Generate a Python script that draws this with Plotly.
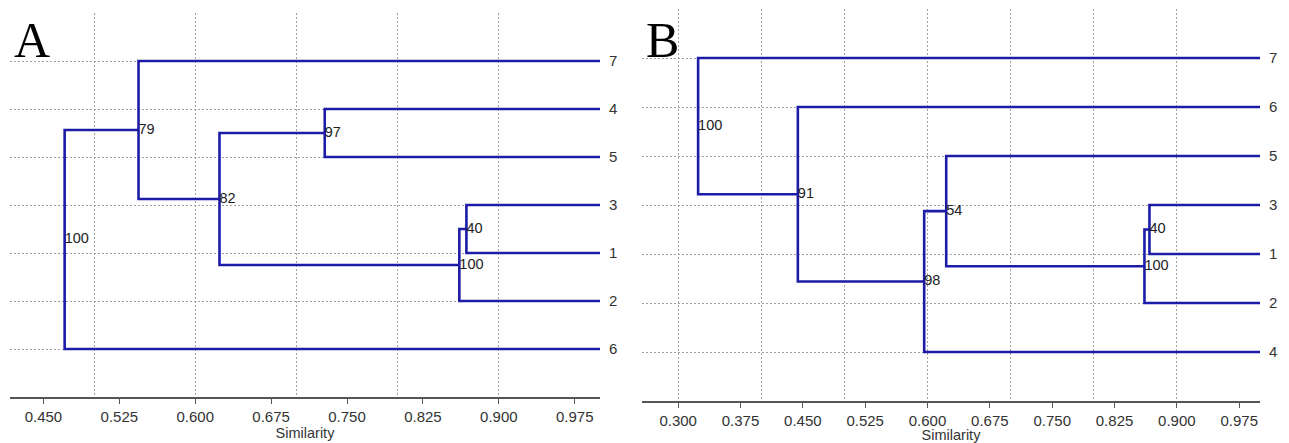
import plotly.graph_objects as go

# ---------------- data ----------------
# Panel A: leaves from bottom to top
leaves_a = ["6", "2", "1", "3", "5", "4", "7"]
merge_a_left = ["3", "m0", "4", "m2", "7", "m4"]
merge_a_right = ["1", "2", "5", "m1", "m3", "6"]
merge_a_sim = [0.868, 0.861, 0.728, 0.624, 0.544, 0.471]
merge_a_support = ["40", "100", "97", "82", "79", "100"]

# Panel B: leaves from bottom to top
leaves_b = ["4", "2", "1", "3", "5", "6", "7"]
merge_b_left = ["3", "m0", "5", "m2", "6", "7"]
merge_b_right = ["1", "2", "m1", "4", "m3", "m4"]
merge_b_sim = [0.867, 0.861, 0.6225, 0.596, 0.444, 0.324]
merge_b_support = ["40", "100", "54", "98", "91", "100"]

ticks_a = [0.450, 0.525, 0.600, 0.675, 0.750, 0.825, 0.900, 0.975]
ticks_b = [0.300, 0.375, 0.450, 0.525, 0.600, 0.675, 0.750, 0.825, 0.900, 0.975]
grid_step = 0.1
leaf_sim = 1.0

LINE = "#1c1ca8"
GRID = "#a0a0a0"
FONT = "Liberation Sans, Arial, sans-serif"


def dendro(leaves, lefts, rights, sims, supports):
    pos = {name: (i + 1, leaf_sim) for i, name in enumerate(leaves)}
    xs, ys, lx, ly, lt = [], [], [], [], []
    for k, (a, b, s, t) in enumerate(zip(lefts, rights, sims, supports)):
        ya, xa = pos[a]
        yb, xb = pos[b]
        xs += [xa, s, s, xb, None]
        ys += [ya, ya, yb, yb, None]
        ym = (ya + yb) / 2
        pos["m%d" % k] = (ym, s)
        lx.append(s)
        ly.append(ym)
        lt.append(t)
    return xs, ys, lx, ly, lt


fig = go.Figure()

panels = [
    (leaves_a, merge_a_left, merge_a_right, merge_a_sim, merge_a_support, "x", "y", "x3"),
    (leaves_b, merge_b_left, merge_b_right, merge_b_sim, merge_b_support, "x2", "y2", "x4"),
]
for leaves, l, r, s, sup, xa, ya, xg in panels:
    xs, ys, lx, ly, lt = dendro(leaves, l, r, s, sup)
    fig.add_trace(go.Scatter(x=xs, y=ys, mode="lines", xaxis=xa, yaxis=ya,
                             line=dict(color=LINE, width=2.6), hoverinfo="skip",
                             showlegend=False))
    fig.add_trace(go.Scatter(x=lx, y=ly, mode="text", text=lt, xaxis=xa, yaxis=ya,
                             textposition="middle right",
                             textfont=dict(family=FONT, size=14.5, color="#222222"),
                             hoverinfo="skip", showlegend=False))
    # invisible trace to activate grid overlay axis
    fig.add_trace(go.Scatter(x=[leaf_sim], y=[0], mode="markers", xaxis=xg, yaxis=ya,
                             marker=dict(opacity=0), hoverinfo="skip", showlegend=False))

W, H = 1289, 443
dom_a_x = [10 / W, 600 / W]
dom_a_y = [1 - 397 / H, 1 - 13 / H]
dom_b_x = [642 / W, 1260 / W]
dom_b_y = [1 - 401 / H, 1 - 9 / H]
range_a = [0.417, 1.0]
range_b = [0.2565, 1.0]

common_x = dict(showgrid=False, zeroline=False, showline=True, linecolor="#555555",
                linewidth=1.5, ticks="outside", ticklen=5, tickcolor="#555555",
                tickfont=dict(family=FONT, size=15, color="#333333"),
                tickformat=".3f",
                title=dict(text="Similarity", font=dict(family=FONT, size=14.5, color="#333333"),
                           standoff=2))
common_grid = dict(showgrid=True, gridcolor=GRID, griddash="2px,2px", gridwidth=1,
                   showticklabels=False, ticks="", showline=False, zeroline=False,
                   tickmode="linear", tick0=0, dtick=grid_step)
common_y = dict(range=[0, 8], side="right", tickmode="array", tickvals=list(range(1, 8)),
                showgrid=True, gridcolor=GRID, griddash="2px,2px", gridwidth=1,
                zeroline=False, showline=False, ticks="", ticklabelstandoff=8,
                tickfont=dict(family=FONT, size=15, color="#333333"))

fig.update_layout(
    width=W, height=H, margin=dict(l=0, r=0, t=0, b=0),
    paper_bgcolor="white", plot_bgcolor="white",
    xaxis=dict(domain=dom_a_x, range=range_a, anchor="y", tickmode="array",
               tickvals=ticks_a, **common_x),
    xaxis3=dict(domain=dom_a_x, range=range_a, anchor="y", overlaying="x", **common_grid),
    yaxis=dict(domain=dom_a_y, anchor="x", ticktext=leaves_a, **common_y),
    xaxis2=dict(domain=dom_b_x, range=range_b, anchor="y2", tickmode="array",
                tickvals=ticks_b, **common_x),
    xaxis4=dict(domain=dom_b_x, range=range_b, anchor="y2", overlaying="x2", **common_grid),
    yaxis2=dict(domain=dom_b_y, anchor="x2", ticktext=leaves_b, **common_y),
    annotations=[
        dict(text="A", xref="paper", yref="paper", x=12 / W, y=1 - 10 / H,
             xanchor="left", yanchor="top", showarrow=False,
             font=dict(family="Liberation Serif, Times New Roman, serif", size=50, color="black")),
        dict(text="B", xref="paper", yref="paper", x=644 / W, y=1 - 10 / H,
             xanchor="left", yanchor="top", showarrow=False,
             font=dict(family="Liberation Serif, Times New Roman, serif", size=50, color="black")),
    ],
)

fig.write_html("out.html", config={"displayModeBar": False},
               post_script="document.body.style.margin='0';document.body.style.padding='0';"
                           "document.body.style.overflow='hidden';")
